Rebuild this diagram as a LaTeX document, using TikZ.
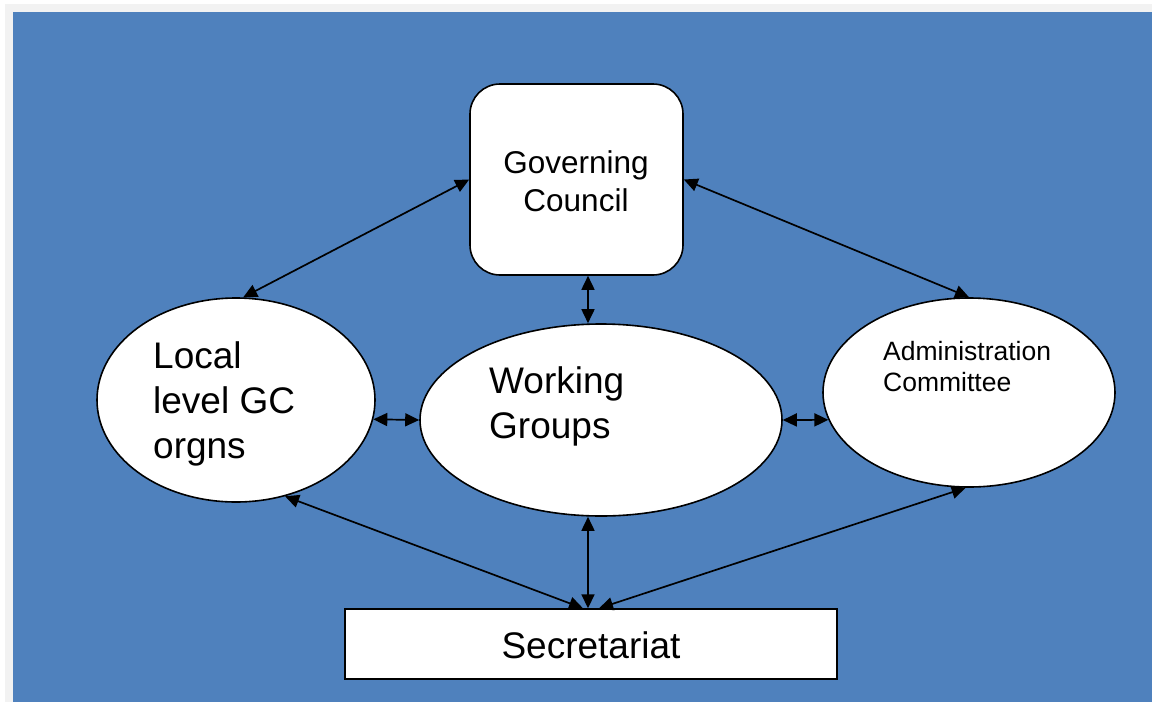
\documentclass[tikz,border=0pt]{standalone}
\usepackage{fontspec}
\setmainfont{Liberation Sans}
\usetikzlibrary{shapes.geometric,arrows.meta,calc}
\definecolor{bgblue}{HTML}{4F81BD}
\definecolor{framegray}{HTML}{F2F2F2}
\begin{document}
\begin{tikzpicture}[x=1pt,y=-1pt,
  blob/.style={ellipse,draw,fill=white,line width=1.6pt,inner sep=0},
  boxnode/.style={draw,fill=white,line width=1.6pt,inner sep=0},
  dbl/.style={{Triangle[length=14pt,width=13pt]}-{Triangle[length=14pt,width=13pt]},line width=1.7pt},
  txt/.style={inner sep=0,align=left,anchor=west},
  big/.style={font=\fontsize{37}{45}\selectfont},
  mid/.style={font=\fontsize{31.5}{38}\selectfont},
  small/.style={font=\fontsize{26.5}{31}\selectfont}]
\useasboundingbox (0,0) rectangle (1152,702);
\fill[white] (0,0) rectangle (1152,702);
\fill[framegray] (5,4) rectangle (1152,702);
\fill[bgblue] (13,12) rectangle (1152,702);

% nodes
\node[boxnode,rounded corners=30pt,minimum width=213pt,minimum height=191pt] (gc) at (576.5,179.5) {};
\node[mid,inner sep=0,align=center] (gct) at (576,181) {Governing\\Council};

\node[blob,minimum width=278pt,minimum height=204pt] (lg) at (236,400) {};
\node[big,txt] (lgt) at (153,404) {Local\\level GC\\orgns};

\node[blob,minimum width=362pt,minimum height=192pt] (wg) at (601,420) {};
\node[big,txt] (wgt) at (489,406) {Working\\Groups};

\node[blob,minimum width=292pt,minimum height=189pt] (ad) at (969,392.5) {};
\node[small,txt] (adt) at (883,367) {Administration\\Committee};

\node[boxnode,line width=1.4pt,minimum width=492pt,minimum height=70pt] (sec) at (591,644) {};
\node[big,inner sep=0] (sect) at (591,645) {Secretariat};

% connectors
\draw[dbl] (gc.west) -- (lg.86);
\draw[dbl] (gc.east) -- (ad.north);
\draw[dbl] ($(gc.south -| sec.north)+(-3,0)$) -- ($(wg.north -| sec.north)+(-3,0)$);
\draw[dbl] (lg.-8.3) -- (wg.west);
\draw[dbl] (wg.east) -- (ad.191);
\draw[dbl] (lg.-63) -- ($(sec.north)+(-8,0)$);
\draw[dbl] ($(wg.south -| sec.north)+(-3,0)$) -- ($(sec.north)+(-3,0)$);
\draw[dbl] (ad.268) -- ($(sec.north)+(8,0)$);
\end{tikzpicture}
\end{document}
